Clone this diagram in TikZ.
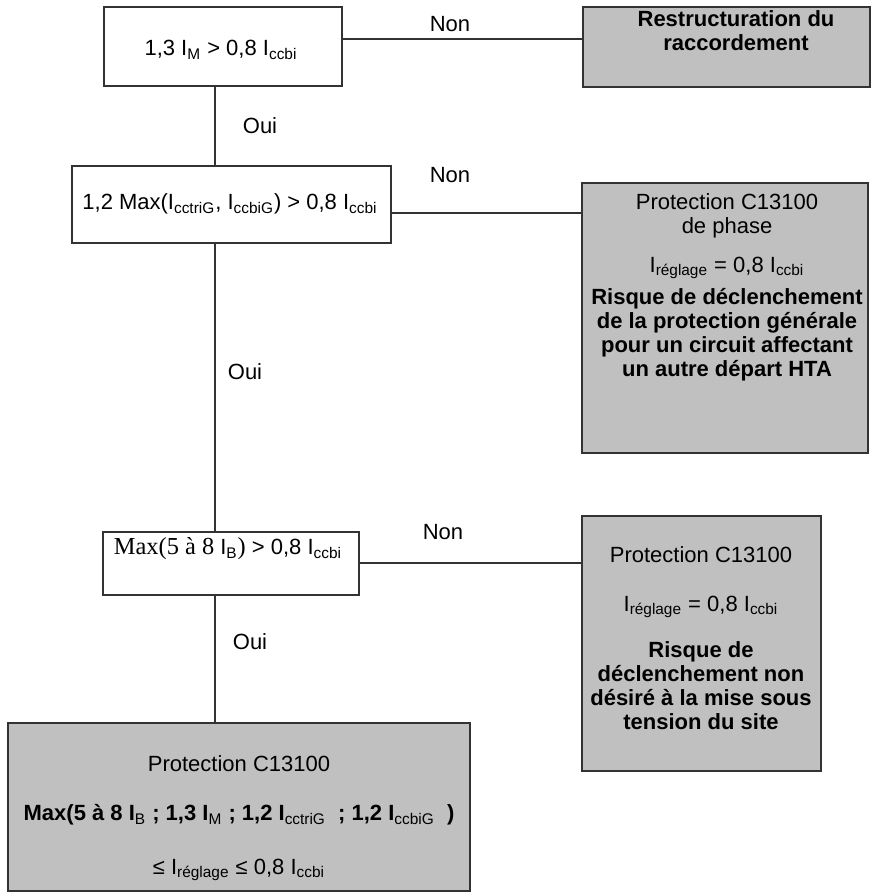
\documentclass[tikz,border=0pt]{standalone}
\usepackage{fontspec}
\setmainfont{Liberation Sans}
\newfontfamily\tnr{Liberation Serif}
\newcommand{\idx}[1]{\textsubscript{\mdseries #1}}
\definecolor{boxgray}{HTML}{C0C0C0}

\begin{document}
\begin{tikzpicture}[x=0.5pt,y=-0.5pt,
    test/.style={draw=black!80,line width=0.75pt,fill=white,inner sep=0pt},
    result/.style={draw=black!80,line width=0.75pt,fill=boxgray,inner sep=0pt},
    txt/.style={align=center,inner sep=0pt,font=\fontsize{11}{12}\selectfont},
    link/.style={draw=black!80,line width=0.75pt}]
    \useasboundingbox (0,0) rectangle (873,892);
    \coordinate (spine) at (215,0);
    \coordinate (y1) at (0,39);
    \coordinate (y2) at (0,213);
    \coordinate (y3) at (0,563);

    % tests
    \node[test,minimum width=119pt,minimum height=39.5pt] (q1) at (223,46.5) {};
    \node[test,minimum width=159.5pt,minimum height=38.5pt] (q2) at (231.5,204.5) {};
    \node[test,minimum width=128pt,minimum height=31.5pt] (q3) at (231,563.5) {};

    % results
    \node[result,minimum width=143.5pt,minimum height=40pt] (r1) at (726.5,47) {};
    \node[result,minimum width=143pt,minimum height=135pt] (r2) at (725,318) {};
    \node[result,minimum width=119.5pt,minimum height=127.5pt] (r3) at (701.5,643.5) {};
    \node[result,minimum width=231pt,minimum height=84pt] (r4) at (239,807) {};

    % links
    \draw[link] (q1.east |- y1) -- (r1.west |- y1);
    \draw[link] (q2.east |- y2) -- (r2.west |- y2);
    \draw[link] (q3.east |- y3) -- (r3.west |- y3);
    \draw[link] (q1.south -| spine) -- (q2.north -| spine);
    \draw[link] (q2.south -| spine) -- (q3.north -| spine);
    \draw[link] (q3.south -| spine) -- (r4.north -| spine);

    \node[txt] (non1) at (450,24) {Non};
    \node[txt] (non2) at (450,175) {Non};
    \node[txt] (non3) at (443,532) {Non};
    \node[txt] (oui1) at (260,126) {Oui};
    \node[txt] (oui2) at (245,372) {Oui};
    \node[txt] (oui3) at (250,642) {Oui};

    % texts
    \node[txt] (t1) at (221,50) {1,3 I\idx{M} > 0,8 I\idx{ccbi}};
    \node[txt] (t2) at (230,204) {1,2 Max(I\idx{cctriG}, I\idx{ccbiG}) > 0,8 I\idx{ccbi}};
    \node[txt] (t3) at (228,549) {{\tnr\fontsize{12.2}{12}\selectfont Max(5 à 8 }I\idx{B}{\tnr\fontsize{12.2}{12}\selectfont )} > 0,8 I\idx{ccbi}};

    \node[txt,font=\fontsize{11}{12}\selectfont\bfseries] (r1t) at (736,31) {Restructuration du\\raccordement};

    \node[txt] (r2a) at (727,216) {Protection C13100\\de phase};
    \node[txt] (r2b) at (727,268) {I\idx{réglage} = 0,8 I\idx{ccbi}};
    \node[txt,font=\fontsize{11}{12}\selectfont\bfseries] (r2c) at (727,335) {Risque de déclenchement\\de la protection générale\\pour un circuit affectant\\un autre départ HTA};

    \node[txt] (r3a) at (701,555) {Protection C13100};
    \node[txt] (r3b) at (701,607) {I\idx{réglage} = 0,8 I\idx{ccbi}};
    \node[txt,font=\fontsize{11}{12}\selectfont\bfseries] (r3c) at (701,686) {Risque de\\déclenchement non\\désiré à la mise sous\\tension du site};

    \node[txt] (r4a) at (239,764) {Protection C13100};
    \node[txt,font=\fontsize{11}{12}\selectfont\bfseries] (r4b) at (239,815) {Max(5 à 8 I\idx{B} ; 1,3 I\idx{M} ; 1,2 I\idx{cctriG} \ ; 1,2 I\idx{ccbiG} \ )};
    \node[txt] (r4c) at (239,870) {≤ I\idx{réglage} ≤ 0,8 I\idx{ccbi}};
\end{tikzpicture}
\end{document}
